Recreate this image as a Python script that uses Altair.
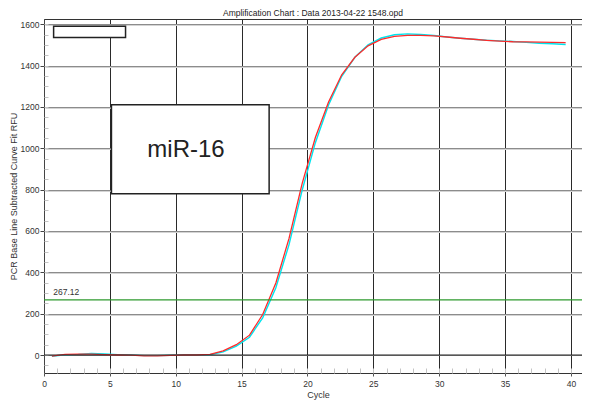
import altair as alt
import pandas as pd

# ---- data ----
cycles = [0.6, 1.6, 2.6, 3.6, 4.6, 5.6, 6.6, 7.6, 8.6, 9.6,
          10.6, 11.6, 12.6, 13.6, 14.6, 15.6, 16.6, 17.6, 18.6, 19.6,
          20.6, 21.6, 22.6, 23.6, 24.6, 25.6, 26.6, 27.6, 28.6, 29.6,
          30.6, 31.6, 32.6, 33.6, 34.6, 35.6, 36.6, 37.6, 38.6, 39.6]
red_rfu = [-5, 3, 4, 4, 2, 0, -1, -4, -4, -2,
           0, 0, 3, 20, 50, 96, 196, 348, 564, 830,
           1052, 1224, 1355, 1440, 1495, 1526, 1541, 1546, 1546, 1543,
           1538, 1532, 1527, 1522, 1518, 1515, 1514, 1513, 1512, 1511]
cyan_rfu = [-6, 1, 3, 8, 5, 2, 0, -3, -3, -1,
            0, 0, 1, 15, 43, 86, 180, 325, 534, 798,
            1027, 1209, 1348, 1440, 1500, 1533, 1549, 1553, 1550, 1545,
            1538, 1532, 1527, 1522, 1519, 1516, 1512, 1508, 1505, 1502]
threshold = 267.12
x_major_ticks = [0, 5, 10, 15, 20, 25, 30, 35, 40]
y_major_ticks = [0, 200, 400, 600, 800, 1000, 1200, 1400, 1600]
x_minor_ticks = list(range(0, 42))
y_minor_ticks = list(range(-50, 1601, 50))
sample_label = "miR-16"
title_text = "Amplification Chart : Data 2013-04-22 1548.opd"

FONT = "Liberation Sans"
XDOM = [0, 40.84]
YDOM = [-87, 1625]
W, H = 538, 354

xs = alt.Scale(domain=XDOM, nice=False, zero=False)
ys = alt.Scale(domain=YDOM, nice=False, zero=False)

df_cyan = pd.DataFrame({"cycle": cycles, "rfu": cyan_rfu})
df_red = pd.DataFrame({"cycle": cycles, "rfu": red_rfu})
df_thr = pd.DataFrame({"y": [threshold], "x": [0.7], "label": [f"{threshold:.2f}"]})
df_zero = pd.DataFrame({"y": [0]})
df_boxes = pd.DataFrame({"x": [0.73, 5.12], "x2": [6.19, 17.09],
                         "y": [1590, 1210], "y2": [1535, 780]})
df_text = pd.DataFrame({"x": [10.78], "y": [992], "t": [sample_label]})

cyan = alt.Chart(df_cyan).mark_line(color="#00e5ee", strokeWidth=1.4).encode(
    x=alt.X("cycle:Q", scale=xs, title="Cycle",
            axis=alt.Axis(orient="bottom", values=x_major_ticks, grid=True,
                          gridColor="#2a2a2a", gridWidth=1, tickSize=3,
                          tickColor="#555", domainColor="#333", format="d",
                          labelFont=FONT, labelFontSize=8.5, labelColor="#333",
                          labelPadding=3, titleFont=FONT, titleFontSize=9,
                          titleFontWeight="normal", titleColor="#333",
                          titlePadding=3, titleX=274, labelFlush=False)),
    y=alt.Y("rfu:Q", scale=ys, title="PCR Base Line Subtracted Curve Fit RFU",
            axis=alt.Axis(orient="left", values=y_major_ticks, grid=True,
                          gridColor="#8c8c8c", gridWidth=1, tickSize=4,
                          tickColor="#444", domainColor="#444", format="d",
                          labelFont=FONT, labelFontSize=8.5, labelColor="#333",
                          labelPadding=1, titleFont=FONT, titleFontSize=9,
                          titleFontWeight="normal", titleColor="#333",
                          titleX=-31, titleY=H / 2, titleAngle=270,
                          titleAlign="center", titleBaseline="middle",
                          labelFlush=False)),
)

red = alt.Chart(df_red).mark_line(color="#ff2a2a", strokeWidth=1.3).encode(
    x=alt.X("cycle:Q", scale=xs, title=None,
            axis=alt.Axis(orient="bottom", values=x_minor_ticks, grid=False,
                          labels=False, domain=False, offset=-5, tickSize=5,
                          tickColor="#c4c4c4")),
    y=alt.Y("rfu:Q", scale=ys, title=None,
            axis=alt.Axis(orient="left", values=y_minor_ticks, grid=False,
                          labels=False, domain=False, offset=-4, tickSize=4,
                          tickColor="#c4c4c4")),
)

thr_rule = alt.Chart(df_thr).mark_rule(color="#2e9a2e", strokeWidth=1.2).encode(
    y=alt.Y("y:Q", scale=ys, title=None,
            axis=alt.Axis(orient="left", values=y_major_ticks[1:], grid=True,
                          gridColor="#d4d4d4", gridWidth=1, labels=False,
                          ticks=False, domain=False, translate=1.5)),
)

thr_text = alt.Chart(df_thr).mark_text(
    align="left", baseline="bottom", dy=-3, font=FONT, fontSize=8.5, color="#333"
).encode(
    x=alt.X("x:Q", scale=xs, title=None,
            axis=alt.Axis(orient="top", labels=False, ticks=False, grid=False,
                          domain=True, domainColor="#333")),
    y=alt.Y("y:Q", scale=ys, axis=None),
    text="label:N",
)

zero_rule = alt.Chart(df_zero).mark_rule(color="#222", strokeWidth=1).encode(
    y=alt.Y("y:Q", scale=ys, axis=None),
)

boxes = alt.Chart(df_boxes).mark_rect(
    fill="white", stroke="#222", strokeWidth=1.5
).encode(
    x=alt.X("x:Q", scale=xs, axis=None),
    x2="x2:Q",
    y=alt.Y("y:Q", scale=ys, axis=None),
    y2="y2:Q",
)

label = alt.Chart(df_text).mark_text(
    font=FONT, fontSize=24, color="#222", align="center", baseline="middle"
).encode(
    x=alt.X("x:Q", scale=xs, axis=None),
    y=alt.Y("y:Q", scale=ys, axis=None),
    text="t:N",
)

chart = alt.layer(
    cyan, red, thr_rule, thr_text, zero_rule, boxes, label
).resolve_axis(x="independent", y="independent").properties(
    width=W, height=H,
    title=alt.TitleParams(title_text, font=FONT, fontSize=8.5,
                          fontWeight="normal", color="#222", anchor="middle",
                          offset=2),
    autosize=alt.AutoSizeParams(type="none"),
    padding={"left": 36, "top": 11, "right": 0, "bottom": 32},
).configure_view(stroke=None).configure(background="white")

chart.save("out.html", embed_options={"renderer": "svg", "actions": False})
